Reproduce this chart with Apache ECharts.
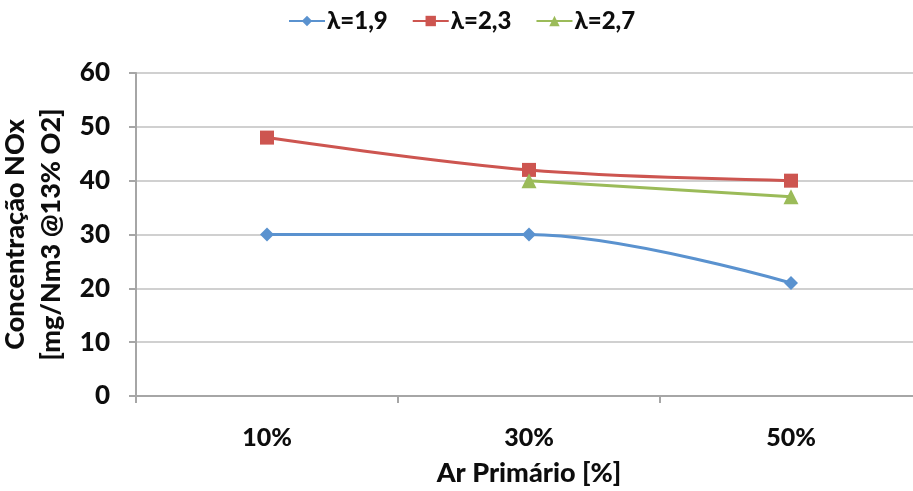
<!DOCTYPE html>
<html>
<head>
<meta charset="utf-8">
<script src="https://cdn.jsdelivr.net/npm/echarts@6/dist/echarts.min.js"></script>
<style>
  html, body { margin: 0; padding: 0; background: #fff; }
  #chart { width: 913px; height: 491px; }
</style>
</head>
<body>
<div id="chart"></div>
<script>
// Primary air share on the x axis
const categories = ['10%', '30%', '50%'];
// NOx concentration per excess-air ratio
const lambda19 = [30, 30, 21];
const lambda23 = [48, 42, 40];
const lambda27 = [null, 40, 37];
const seriesNames = ['λ=1,9', 'λ=2,3', 'λ=2,7'];
const yTicks = { min: 0, max: 60, interval: 10 };

const FONT = 'Lato';
const WEIGHT = 900;
const INK = '#0d0d0d';
const chart = echarts.init(document.getElementById('chart'), null, { renderer: 'canvas' });

function lineSeries(name, data, color, symbol, size) {
  return {
    name, type: 'line', data, smooth: 0.35,
    symbol, symbolSize: size,
    connectNulls: false,
    lineStyle: { color, width: 3 },
    itemStyle: { color },
    emphasis: { disabled: true }
  };
}

chart.setOption({
  animation: false,
  textStyle: { fontFamily: FONT },
  legend: {
    top: 4, left: 283,
    itemWidth: 36, itemHeight: 13, itemGap: 24,
    textStyle: { fontFamily: FONT, fontWeight: WEIGHT, fontSize: 24, color: INK, padding: [0, 0, 0, -3] },
    data: seriesNames
  },
  grid: { left: 136, right: -9, top: 73, bottom: 95, containLabel: false, outerBoundsMode: 'none' },
  xAxis: {
    type: 'category',
    data: categories,
    boundaryGap: true,
    name: 'Ar Primário [%]',
    nameLocation: 'middle',
    nameGap: 64,
    nameTextStyle: { fontFamily: FONT, fontWeight: WEIGHT, fontSize: 27, color: INK },
    axisLine: { lineStyle: { color: '#A6A6A6', width: 2 } },
    axisTick: { show: true, length: 7, lineStyle: { color: '#A6A6A6', width: 2 } },
    axisLabel: { margin: 29, fontFamily: FONT, fontWeight: WEIGHT, fontSize: 25, color: INK }
  },
  yAxis: {
    type: 'value',
    min: yTicks.min, max: yTicks.max, interval: yTicks.interval,
    name: 'Concentração NOx\n[mg/Nm3 @13% O2]',
    nameLocation: 'middle',
    nameGap: 52,
    nameRotate: 90,
    nameTextStyle: { fontFamily: FONT, fontWeight: WEIGHT, fontSize: 27, color: INK, lineHeight: 36 },
    axisLine: { show: true, lineStyle: { color: '#A6A6A6', width: 2 } },
    axisTick: { show: true, length: 7, lineStyle: { color: '#A6A6A6', width: 2 } },
    axisLabel: { margin: 26, fontFamily: FONT, fontWeight: WEIGHT, fontSize: 26, color: INK },
    splitLine: { lineStyle: { color: '#D0D0D0', width: 2 } }
  },
  series: [
    lineSeries(seriesNames[0], lambda19, '#5A92CF', 'diamond', 14),
    lineSeries(seriesNames[1], lambda23, '#CD5550', 'rect', 14),
    lineSeries(seriesNames[2], lambda27, '#9BBB59', 'triangle', 15)
  ]
});
</script>
</body>
</html>
